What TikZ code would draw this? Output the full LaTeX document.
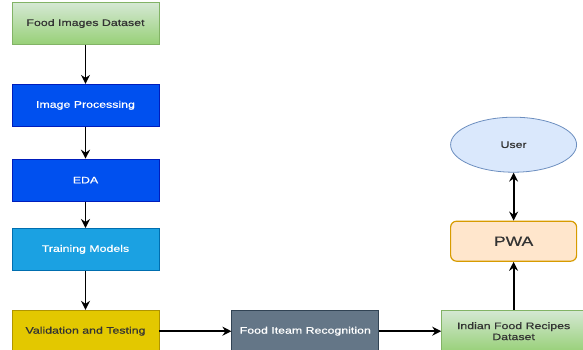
\documentclass[tikz,border=0pt]{standalone}
\usepackage{fontspec}
\setmainfont{Liberation Sans}[FakeStretch=1.3, FakeBold=0.6]
\usetikzlibrary{arrows.meta, positioning, shapes.geometric}
\definecolor{green-top}{HTML}{D5E8D4}
\definecolor{green-bottom}{HTML}{97D077}
\definecolor{green-line}{HTML}{82B366}
\definecolor{blue-fill}{HTML}{0050EF}
\definecolor{blue-line}{HTML}{001DBC}
\definecolor{cyan-fill}{HTML}{1BA1E2}
\definecolor{cyan-line}{HTML}{006EAF}
\definecolor{yellow-fill}{HTML}{E3C800}
\definecolor{yellow-line}{HTML}{B09500}
\definecolor{slate-fill}{HTML}{647687}
\definecolor{slate-line}{HTML}{314354}
\definecolor{orange-fill}{HTML}{FFE6CC}
\definecolor{orange-line}{HTML}{D79B00}
\definecolor{user-fill}{HTML}{DAE8FC}
\definecolor{user-line}{HTML}{6C8EBF}
\definecolor{dark-text}{HTML}{333333}
\tikzset{
    box/.style={draw, rectangle, line width=0.8pt, minimum width=147pt, minimum height=42pt, align=center, text=dark-text, font=\fontsize{9.5}{11}\selectfont},
    green box/.style={top color=green-top, bottom color=green-bottom, draw=green-line},
    tip/.tip={Stealth[length=9pt, width=9pt, inset=3pt]},
    flow/.style={-tip, line width=1.8pt}
}

\begin{document}
\begin{tikzpicture}[x=1pt, y=-1pt]
    \useasboundingbox (0,0) rectangle (583,349);
    \node[box, green box] (food-images) at (85.5,23.5) {Food Images Dataset};
    \node[box, fill=blue-fill, draw=blue-line, text=white, below=39pt of food-images] (image-processing) {Image Processing};
    \node[box, fill=blue-fill, draw=blue-line, text=white, below=32pt of image-processing] (eda) {EDA};
    \node[box, fill=cyan-fill, draw=cyan-line, text=white, below=26.5pt of eda] (training-models) {Training Models};
    \node[box, fill=yellow-fill, draw=yellow-line, below=39pt of training-models] (validation-testing) {Validation and Testing};
    \draw[flow] (food-images) -- (image-processing);
    \draw[flow] (image-processing) -- (eda);
    \draw[flow] (eda) -- (training-models);
    \draw[flow] (training-models) -- (validation-testing);

    \node[box, fill=slate-fill, draw=slate-line, text=white, right=72pt of validation-testing] (food-recognition) {Food Iteam Recognition};
    \node[box, green box, minimum width=144pt, right=62pt of food-recognition] (indian-recipes) {Indian Food Recipes\\Dataset};
    \draw[flow] (validation-testing) -- (food-recognition);
    \draw[flow] (food-recognition) -- (indian-recipes);

    \node[box, rounded corners=6pt, line width=1.2pt, fill=orange-fill, draw=orange-line, minimum width=126pt, minimum height=40pt, font=\fontsize{13.5}{15}\selectfont, above=48pt of indian-recipes] (pwa) {PWA};
    \node[ellipse, draw=user-line, fill=user-fill, line width=0.8pt, minimum width=126pt, minimum height=55pt, text=dark-text, font=\fontsize{9.5}{11}\selectfont, above=48pt of pwa] (user) {User};
    \draw[flow] (indian-recipes) -- (pwa);
    \draw[flow, tip-tip] (pwa) -- (user);
\end{tikzpicture}
\end{document}
